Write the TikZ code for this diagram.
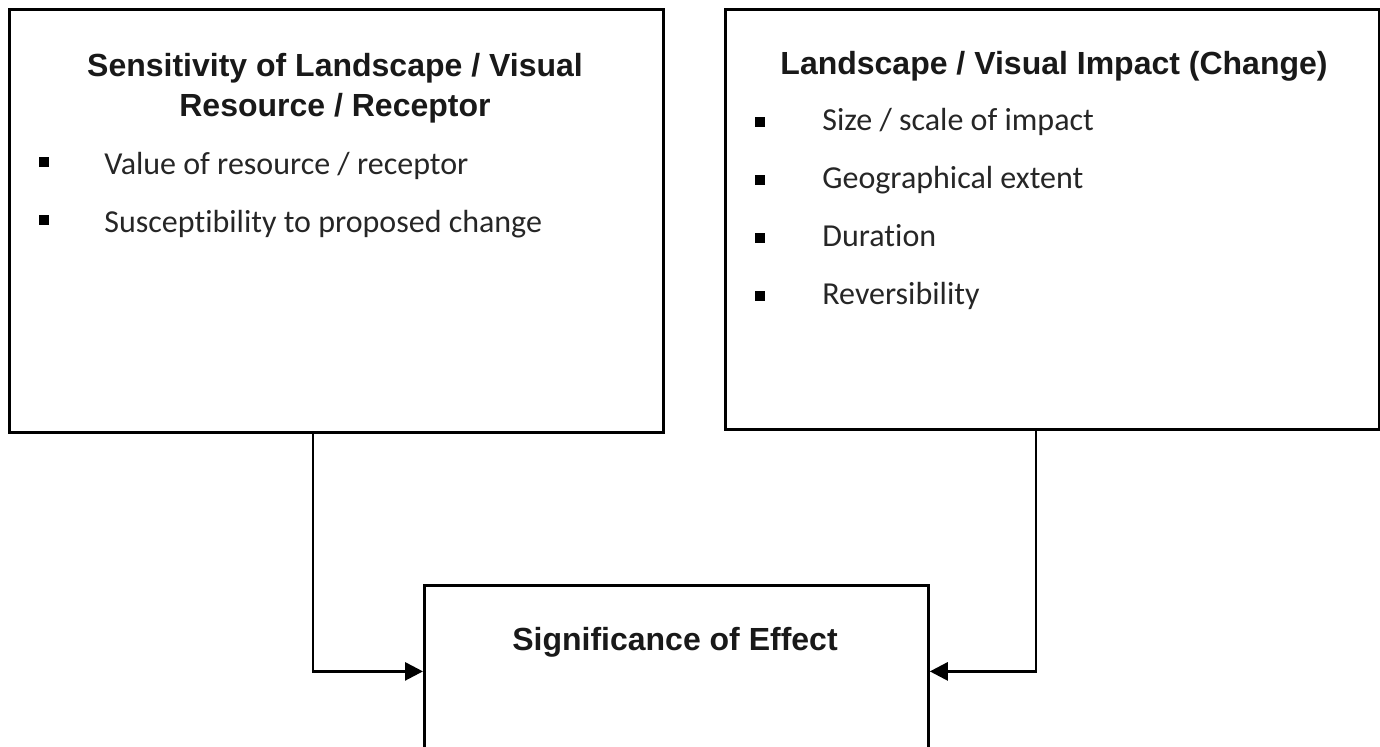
\documentclass[tikz,border=0pt]{standalone}
\usepackage{fontspec}
\setmainfont{Carlito}[Ligatures=NoCommon]
\newfontfamily\headfont{Liberation Sans}
\usetikzlibrary{arrows.meta}

\begin{document}
\begin{tikzpicture}[
x=0.5pt, y=-0.5pt,
box/.style={rectangle, draw, line width=1.4pt, anchor=north west, inner sep=0pt},
head/.style={font=\headfont\bfseries\fontsize{16}{20}\selectfont, align=center, text=black!90},
item/.style={font=\fontsize{16}{19}\selectfont, anchor=base west, text=black!85, inner sep=0pt},
sq/.style={rectangle, fill=black, minimum size=4.8pt, inner sep=0pt},
link/.style={line width=1.4pt, -{Triangle[length=9pt, width=9pt]}},
]
\useasboundingbox (0,0) rectangle (1380,747);

% Boxes
\node[box, minimum width=327pt, minimum height=211.5pt] (sens) at (8,8) {};
\node[box, minimum width=327pt, minimum height=210pt] (impact) at (724,8) {};
\node[box, minimum width=252pt, minimum height=86pt] (sig) at (423,584) {};

% Sensitivity box
\node[head] (senshead) at (335,88) {Sensitivity of Landscape / Visual\\Resource / Receptor};
\node[sq] (sb1) at (44,162) {};
\node[item] (si1) at (104,175) {Value of resource / receptor};
\node[sq] (sb2) at (44,220) {};
\node[item] (si2) at (104,233) {Susceptibility to proposed change};

% Impact box
\node[head, anchor=base] (imphead) at (1054,75) {Landscape / Visual Impact (Change)};
\node[sq] (ib1) at (760,122) {};
\node[item] (ii1) at (822,131) {Size / scale of impact};
\node[sq] (ib2) at (760,180) {};
\node[item] (ii2) at (822,189) {Geographical extent};
\node[sq] (ib3) at (760,238) {};
\node[item] (ii3) at (822,247) {Duration};
\node[sq] (ib4) at (760,296) {};
\node[item] (ii4) at (822,305) {Reversibility};

% Significance box
\node[head, anchor=base] (sighead) at (675,650) {Significance of Effect};

% Connectors
\coordinate (lturn) at (313,670);
\coordinate (rturn) at (1036,670);
\draw[link] (lturn |- sens.south) |- (sig.west);
\draw[link] (rturn |- impact.south) |- (sig.east);

\end{tikzpicture}
\end{document}
